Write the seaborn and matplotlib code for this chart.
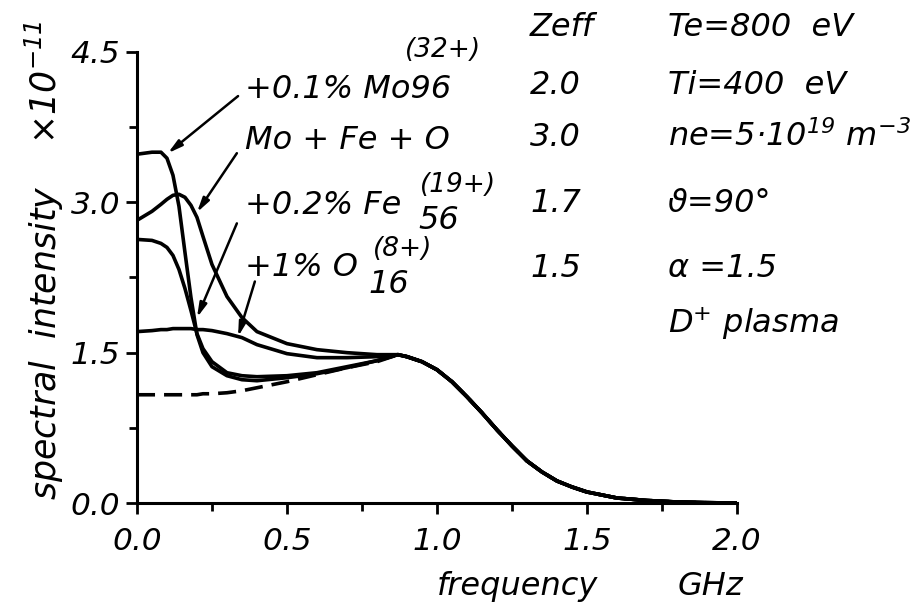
import numpy as np
import pandas as pd
import matplotlib
matplotlib.use("Agg")
import matplotlib.pyplot as plt
import seaborn as sns
from matplotlib.ticker import MultipleLocator

# ---- data ----
head_freq = [0.00, 0.05, 0.08, 0.10, 0.12, 0.14, 0.16, 0.18, 0.20, 0.22,
             0.25, 0.30, 0.35, 0.40, 0.50, 0.60, 0.70, 0.80]
mo_curve = [3.48, 3.50, 3.50, 3.44, 3.27, 2.96, 2.50, 2.05, 1.68, 1.50,
            1.36, 1.27, 1.23, 1.22, 1.25, 1.29, 1.35, 1.42]
mofeo_curve = [2.82, 2.91, 2.98, 3.03, 3.07, 3.08, 3.05, 2.97, 2.85, 2.66,
               2.38, 2.06, 1.85, 1.71, 1.59, 1.53, 1.50, 1.48]
fe_curve = [2.63, 2.62, 2.59, 2.55, 2.47, 2.33, 2.14, 1.92, 1.69, 1.54,
            1.41, 1.30, 1.27, 1.26, 1.27, 1.30, 1.36, 1.42]
o_curve = [1.71, 1.72, 1.73, 1.73, 1.74, 1.74, 1.74, 1.74, 1.73, 1.73,
           1.72, 1.69, 1.65, 1.58, 1.49, 1.45, 1.45, 1.46]
pure_curve = [1.08, 1.08, 1.08, 1.08, 1.08, 1.08, 1.08, 1.08, 1.08, 1.09,
              1.09, 1.10, 1.12, 1.15, 1.21, 1.28, 1.35, 1.41]

# common high-frequency tail (all curves coincide)
tail_freq = [0.87, 0.90, 0.95, 1.00, 1.05, 1.10, 1.15, 1.20, 1.25, 1.30,
             1.35, 1.40, 1.45, 1.50, 1.60, 1.70, 1.80, 1.90, 2.00]
tail_curve = [1.48, 1.46, 1.41, 1.33, 1.21, 1.06, 0.90, 0.73, 0.57, 0.42,
              0.31, 0.22, 0.16, 0.11, 0.05, 0.025, 0.01, 0.003, 0.0]

zeff_values = ["2.0", "3.0", "1.7", "1.5"]
params = ["Te=800  eV", "Ti=400  eV", r"ne=5·10$^{19}$ m$^{-3}$",
          "ϑ=90°", "α =1.5"]

sns.set_theme(style="ticks", rc={"axes.edgecolor": "black", "text.color": "black",
                                 "xtick.color": "black", "ytick.color": "black",
                                 "axes.labelcolor": "black"})
plt.rcParams['font.family'] = ['DejaVu Sans']
plt.rcParams['font.style'] = 'italic'
plt.rcParams['mathtext.default'] = 'it'

fig = plt.figure(figsize=(9.23, 6.10), dpi=100)
ax = fig.add_axes([0.1484, 0.1754, 0.6500, 0.7394])

freq = head_freq + tail_freq
for vals in [mo_curve, mofeo_curve, fe_curve, o_curve]:
    sns.lineplot(x=freq, y=vals + tail_curve, ax=ax, color="black",
                 lw=2.6, estimator=None, sort=False)
sns.lineplot(x=freq, y=pure_curve + tail_curve, ax=ax, color="black",
             lw=2.6, estimator=None, sort=False)
ax.lines[-1].set_dashes([5, 2.5])

ax.set_xlim(0, 2.0)
ax.set_ylim(0, 4.5)
ax.xaxis.set_major_locator(MultipleLocator(0.5))
ax.xaxis.set_minor_locator(MultipleLocator(0.25))
ax.yaxis.set_major_locator(MultipleLocator(1.5))
ax.yaxis.set_minor_locator(MultipleLocator(0.75))
ax.set_xticklabels([f"{v:.1f}" for v in ax.get_xticks()])
ax.set_yticklabels([f"{v:.1f}" for v in ax.get_yticks()])
sns.despine(ax=ax)
for s in ["left", "bottom"]:
    ax.spines[s].set_linewidth(2.2)
ax.tick_params(which="major", length=8, width=2, labelsize=22.5, pad=4)
ax.tick_params(which="minor", length=6, width=2)
ax.tick_params(axis="x", which="major", pad=9)
ax.set_xlabel("")
ax.set_ylabel("")

fs = 23
# axis labels as free text
ax.text(1.27, -0.205, "frequency", transform=ax.get_xaxis_transform(),
        ha="center", va="baseline", fontsize=fs)
ax.text(1.91, -0.205, "GHz", transform=ax.get_xaxis_transform(),
        ha="center", va="baseline", fontsize=fs)
fig.text(0.048, 0.574, r"spectral  intensity    ×10$^{-11}$", rotation=90,
         ha="center", va="center", fontsize=25)

# curve labels
ax.text(0.36, 4.04, "+0.1% Mo96", fontsize=fs, va="baseline")
ax.text(0.893, 4.45, "(32+)", fontsize=19, va="baseline")
ax.text(0.36, 3.53, "Mo + Fe + O", fontsize=fs, va="baseline")
ax.text(0.36, 2.88, "+0.2% Fe", fontsize=fs, va="baseline")
ax.text(0.943, 3.10, "(19+)", fontsize=19, va="baseline")
ax.text(0.937, 2.73, "56", fontsize=fs, va="baseline")
ax.text(0.36, 2.26, "+1% O", fontsize=fs, va="baseline")
ax.text(0.787, 2.46, "(8+)", fontsize=19, va="baseline")
ax.text(0.77, 2.10, "16", fontsize=fs, va="baseline")

arrows = [((0.337, 4.06), (0.103, 3.49)),
          ((0.333, 3.49), (0.200, 2.90)),
          ((0.333, 2.79), (0.200, 1.85)),
          ((0.393, 2.21), (0.337, 1.66))]
for start, end in arrows:
    ax.annotate("", xy=end, xytext=start,
                arrowprops=dict(arrowstyle="-|>,head_length=0.7,head_width=0.18",
                                lw=1.8, color="black", shrinkA=0, shrinkB=0))

# Zeff column and plasma parameters
ax.text(1.31, 4.66, "Zeff", fontsize=fs, va="baseline")
zeff_y = [4.08, 3.56, 2.90, 2.25]
for lbl, yy in zip(zeff_values, zeff_y):
    ax.text(1.31, yy, lbl, fontsize=fs, va="baseline")
param_y = [4.66, 4.08, 3.56, 2.90, 2.25]
for lbl, yy in zip(params, param_y):
    ax.text(1.77, yy, lbl, fontsize=fs, va="baseline")
ax.text(1.77, 1.70, r"D$^{+}$ plasma", fontsize=fs, va="baseline")

fig.savefig("out.png", dpi=100)
